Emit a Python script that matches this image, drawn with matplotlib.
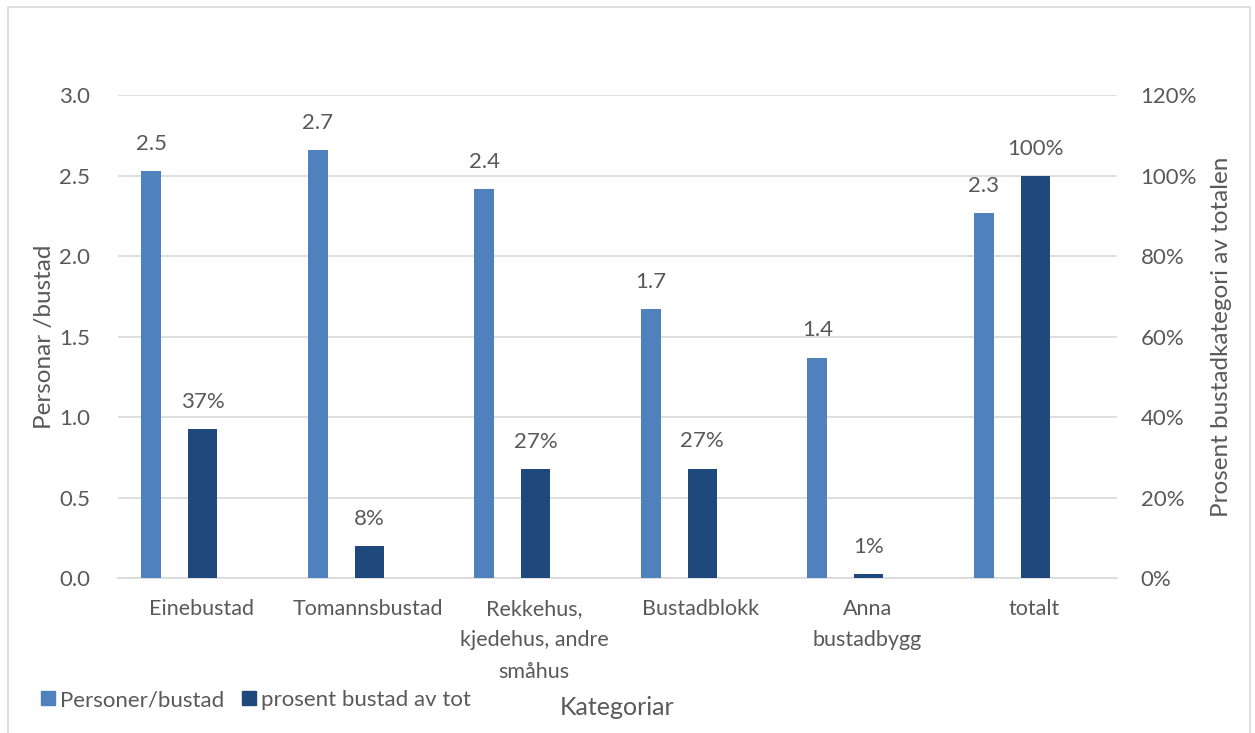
import matplotlib.pyplot as plt
import matplotlib.patches as mpatches
from matplotlib.ticker import FuncFormatter
import numpy as np

plt.rcParams["font.family"] = ["Lato", "DejaVu Sans"]

categories = ["Einebustad", "Tomannsbustad", "Rekkehus,\nkjedehus, andre\nsmåhus",
              "Bustadblokk", "Anna\nbustadbygg", "totalt"]
personer_per_bustad = [2.53, 2.66, 2.42, 1.67, 1.37, 2.27]
prosent_bustad = [0.37, 0.08, 0.27, 0.272, 0.01, 1.0]

light = "#4F81BD"
dark = "#1F497D"
txt = "#595959"
grid = "#D9D9D9"

fig = plt.figure(figsize=(12.55, 7.33), dpi=100)
fig.patches.append(mpatches.Rectangle((0.006, -0.01), 0.99, 1.0, transform=fig.transFigure,
                                      fill=False, edgecolor=grid, linewidth=1.2))
ax = fig.add_axes([0.094, 0.2115, 0.796, 0.6585])
ax2 = ax.twinx()

x = np.arange(len(categories))
b1 = ax.bar(x - 0.30, personer_per_bustad, width=0.12, color=light, zorder=3)
b2 = ax2.bar(x + 0.01, prosent_bustad, width=0.174, color=dark, zorder=3)

ax.set_xlim(-0.5, len(categories) - 0.5)
ax.set_ylim(0, 3.0)
ax2.set_ylim(0, 1.2)
ax.set_yticks(np.arange(0, 3.01, 0.5))
ax2.set_yticks(np.arange(0, 1.21, 0.2))
ax.yaxis.set_major_formatter(FuncFormatter(lambda v, p: f"{v:.1f}"))
ax2.yaxis.set_major_formatter(FuncFormatter(lambda v, p: f"{v * 100:.0f}%"))

ax.grid(axis="y", color=grid, linewidth=1.2, zorder=0)
ax.set_axisbelow(True)
for a in (ax, ax2):
    for s in a.spines.values():
        s.set_visible(False)
ax.spines["bottom"].set_visible(True)
ax.spines["bottom"].set_color(grid)
ax.spines["bottom"].set_linewidth(1.2)

ax.tick_params(axis="y", length=0, pad=20, labelsize=16, labelcolor=txt)
ax2.tick_params(axis="y", length=0, pad=17, labelsize=16, labelcolor=txt)
ax.set_xticks(x)
ax.set_xticklabels(categories, linespacing=1.72)
ax.tick_params(axis="x", length=0, pad=15, labelsize=15.5, labelcolor=txt)

ax.set_ylabel("Personar /bustad", fontsize=17.5, color=txt, labelpad=3)
ax2.set_ylabel("Prosent bustadkategori av totalen", fontsize=17.5, color=txt, labelpad=10)
fig.text(0.492, 0.035, "Kategoriar", fontsize=18, color=txt, ha="center", va="center")

for rect, v in zip(b1, personer_per_bustad):
    ax.annotate(f"{v:.1f}", (rect.get_x() + rect.get_width() / 2, v), xytext=(0, 19.5),
                textcoords="offset points", ha="center", va="center", fontsize=16, color=txt)
for rect, v in zip(b2, prosent_bustad):
    ax2.annotate(f"{v * 100:.0f}%", (rect.get_x() + rect.get_width() / 2, v), xytext=(0, 19.5),
                 textcoords="offset points", ha="center", va="center", fontsize=16, color=txt)

handles = [mpatches.Patch(color=light, label="Personer/bustad"),
           mpatches.Patch(color=dark, label="prosent bustad av tot")]
fig.legend(handles=handles, loc="center left", bbox_to_anchor=(0.017, 0.045), ncol=2,
           frameon=False, fontsize=16, labelcolor=txt, handlelength=0.6, handleheight=0.6,
           handletextpad=0.25, columnspacing=0.8)

fig.savefig("out.png", dpi=100)
